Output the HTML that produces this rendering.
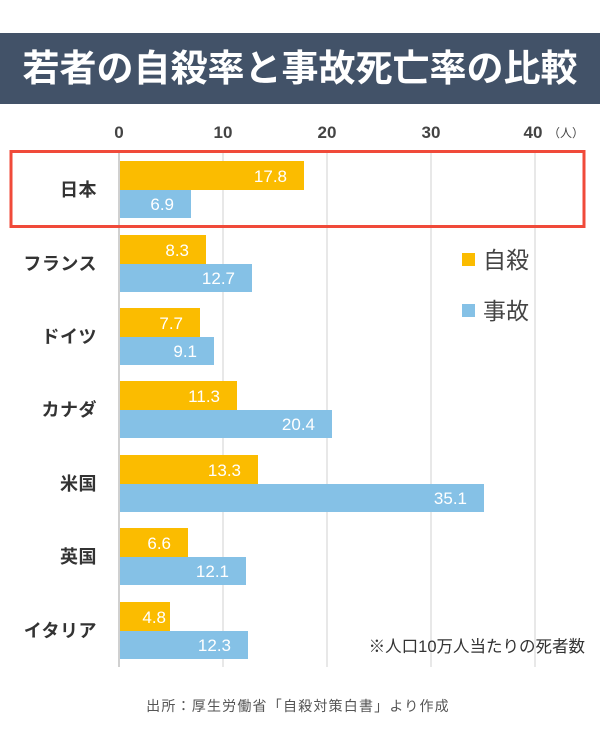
<!DOCTYPE html>
<html><head><meta charset="utf-8"><style>
body{margin:0;width:600px;height:750px;background:#fff;position:relative;overflow:hidden;font-family:"Liberation Sans","Noto Sans CJK JP",sans-serif;}
.a{position:absolute;}
</style></head><body>
<div class="a" style="left:0;top:33px;width:600px;height:71px;background:#425268;"></div>
<div class="a" style="left:0;top:33px;width:600px;height:71px;line-height:71px;text-align:center;color:#fff;font-size:37px;font-weight:bold;">若者の自殺率と事故死亡率の比較</div>
<svg class="a" style="left:0;top:0" width="600" height="750" xmlns="http://www.w3.org/2000/svg" font-family="Liberation Sans, Noto Sans CJK JP, sans-serif">
<g stroke="#e8e8e8" stroke-width="2">
<line x1="223" y1="152" x2="223" y2="667"/><line x1="327" y1="152" x2="327" y2="667"/><line x1="431" y1="152" x2="431" y2="667"/><line x1="535" y1="152" x2="535" y2="667"/>
</g>
<line x1="119" y1="152" x2="119" y2="667" stroke="#d0d0d0" stroke-width="2"/>
<g font-size="17" font-weight="bold" fill="#444" text-anchor="middle">
<text x="119" y="138">0</text><text x="223" y="138">10</text><text x="327" y="138">20</text><text x="431" y="138">30</text><text x="533" y="138">40</text>
</g>
<text x="548" y="137" font-size="12" fill="#444">（人）</text>
<g font-size="17" fill="#fff" text-anchor="end">
<rect x="120" y="161" width="184" height="29" fill="#fbbc00"/><text x="287" y="182">17.8</text>
<rect x="120" y="190" width="71" height="28" fill="#85c1e6"/><text x="174" y="210">6.9</text>
<rect x="120" y="235" width="86" height="29" fill="#fbbc00"/><text x="189" y="256">8.3</text>
<rect x="120" y="264" width="132" height="28" fill="#85c1e6"/><text x="235" y="284">12.7</text>
<rect x="120" y="308" width="80" height="29" fill="#fbbc00"/><text x="183" y="329">7.7</text>
<rect x="120" y="337" width="94" height="28" fill="#85c1e6"/><text x="197" y="357">9.1</text>
<rect x="120" y="381" width="117" height="29" fill="#fbbc00"/><text x="220" y="402">11.3</text>
<rect x="120" y="410" width="212" height="28" fill="#85c1e6"/><text x="315" y="430">20.4</text>
<rect x="120" y="455" width="138" height="29" fill="#fbbc00"/><text x="241" y="476">13.3</text>
<rect x="120" y="484" width="364" height="28" fill="#85c1e6"/><text x="467" y="504">35.1</text>
<rect x="120" y="528" width="68" height="29" fill="#fbbc00"/><text x="171" y="549">6.6</text>
<rect x="120" y="557" width="126" height="28" fill="#85c1e6"/><text x="229" y="577">12.1</text>
<rect x="120" y="602" width="50" height="29" fill="#fbbc00"/><text x="166" y="623">4.8</text>
<rect x="120" y="631" width="128" height="28" fill="#85c1e6"/><text x="231" y="651">12.3</text>
</g>
<g font-size="18" font-weight="bold" fill="#333" text-anchor="end" letter-spacing="0.5">
<text x="97" y="196">日本</text><text x="97" y="270">フランス</text><text x="97" y="343">ドイツ</text><text x="97" y="416">カナダ</text><text x="97" y="490">米国</text><text x="97" y="563">英国</text><text x="97" y="637">イタリア</text>
</g>
<rect x="11" y="151.5" width="573" height="75" fill="none" stroke="#f04a3a" stroke-width="3"/>
<rect x="462" y="253" width="13" height="13" fill="#fbbc00"/>
<text x="483" y="268" font-size="23" fill="#444">自殺</text>
<rect x="462" y="304" width="13" height="13" fill="#85c1e6"/>
<text x="483" y="319" font-size="23" fill="#444">事故</text>
<text x="585" y="652" font-size="16.5" fill="#333" text-anchor="end">※人口10万人当たりの死者数</text>
<text x="298" y="711" font-size="14" fill="#555" text-anchor="middle" letter-spacing="1.2">出所：厚生労働省「自殺対策白書」より作成</text>
</svg>
</body></html>
